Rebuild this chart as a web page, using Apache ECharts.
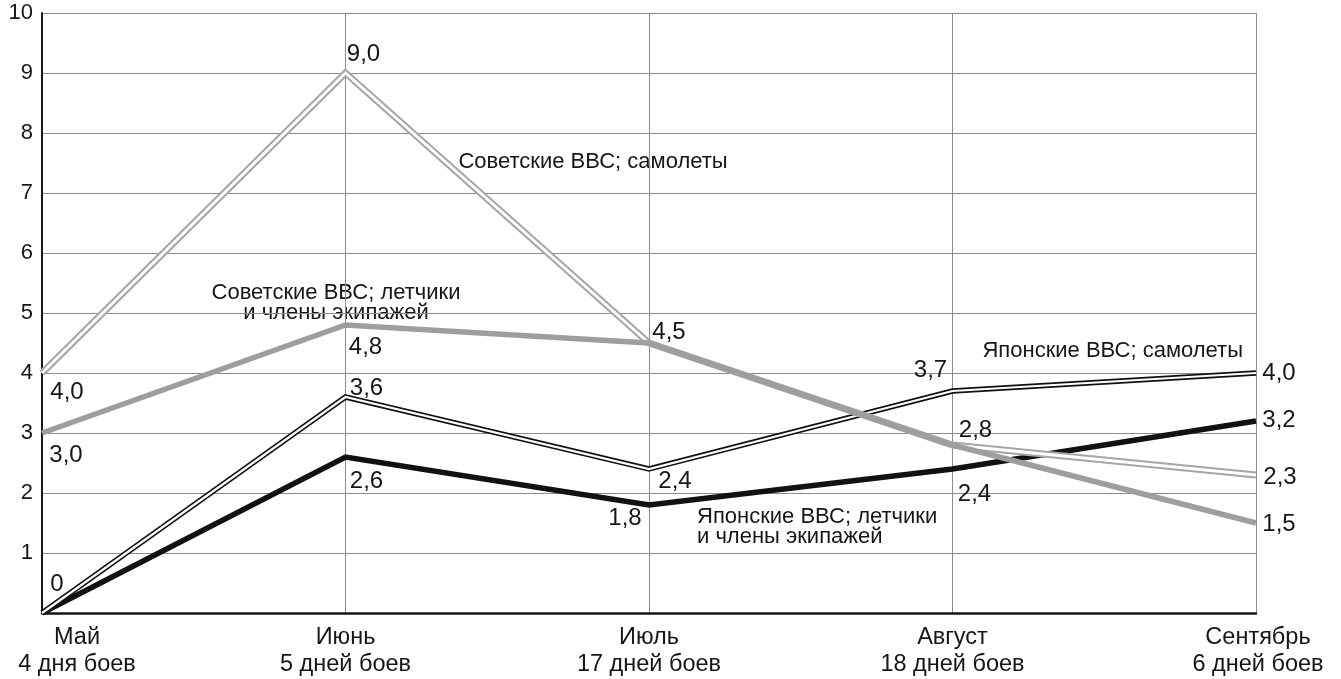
<!DOCTYPE html>
<html lang="ru">
<head>
<meta charset="utf-8">
<title>Потери авиации по месяцам</title>
<script src="https://cdn.jsdelivr.net/npm/echarts@6/dist/echarts.min.js"></script>
<style>
  html, body { margin: 0; padding: 0; background: #ffffff; }
  #chart { width: 1341px; height: 679px; }
</style>
</head>
<body>
<div id="chart"></div>
<script>
// Months and number of combat days in each
const months = ['Май', 'Июнь', 'Июль', 'Август', 'Сентябрь'];
const battleDays = ['4 дня боев', '5 дней боев', '17 дней боев', '18 дней боев', '6 дней боев'];

// Value axis
const yMin = 0;
const yMax = 10;
const yStep = 1;

// Series values
const sovietPlanes = [4.0, 9.0, 4.5, 2.8, 2.3];
const sovietCrews  = [3.0, 4.8, 4.5, 2.8, 1.5];
const japanPlanes  = [0, 3.6, 2.4, 3.7, 4.0];
const japanCrews   = [0, 2.6, 1.8, 2.4, 3.2];

// Where each value label sits relative to its point (null = no label)
const sovietPlanesLabelOffset = [[25, 19], [18, -19], [20, -11], [23, -15], [24, 2]];
const sovietCrewsLabelOffset  = [[24, 22], [20, 22], null, null, [23, 1]];
const japanPlanesLabelOffset  = [[15, -29], [21, -9], [26, 12], [-22, -21], [23, 0]];
const japanCrewsLabelOffset   = [null, [21, 24], [-24, 13], [22, 25], [23, -1]];

// Horizontal nudge for the first month caption so it stays on the page
const monthLabelShift = [35, 0, 0, 0, 2];

const FONT = "'Liberation Sans', Arial, Helvetica, sans-serif";
const INK = '#161616';
const GRID = '#8c8c8c';

function fmt(v) {
  return v === 0 ? '0' : v.toFixed(1).replace('.', ',');
}

function withLabels(values, offsets) {
  return values.map((v, i) => {
    const off = offsets[i];
    return {
      value: v,
      label: off
        ? { show: true, position: 'inside', offset: off }
        : { show: false }
    };
  });
}

function lineSeries(name, values, offsets, color, width, z) {
  return {
    name: name,
    type: 'line',
    data: withLabels(values, offsets),
    z: z,
    symbol: 'circle',
    symbolSize: 1,
    showSymbol: true,
    showAllSymbol: true,
    silent: true,
    itemStyle: { color: 'rgba(0,0,0,0)', borderWidth: 0 },
    lineStyle: { color: color, width: width, join: 'miter', cap: 'butt' },
    label: {
      show: true,
      formatter: p => fmt(p.value),
      color: INK,
      fontFamily: FONT,
      fontSize: 24,
      align: 'center',
      verticalAlign: 'middle'
    },
    emphasis: { disabled: true }
  };
}

// White core drawn on top of a wide stroke gives the double-line look
function coreSeries(values, width, z) {
  return {
    type: 'line',
    data: values,
    z: z,
    symbol: 'none',
    silent: true,
    lineStyle: { color: '#ffffff', width: width, join: 'miter', cap: 'butt' },
    emphasis: { disabled: true }
  };
}

const chart = echarts.init(document.getElementById('chart'), null, { renderer: 'canvas' });

chart.setOption({
  animation: false,
  backgroundColor: '#ffffff',
  grid: { left: 42, right: 85, top: 13, bottom: 66, containLabel: false, outerBoundsMode: 'none' },
  xAxis: {
    type: 'category',
    boundaryGap: false,
    data: months.map((m, i) => ({
      value: m,
      textStyle: { padding: [0, 0, 0, monthLabelShift[i] * 2] }
    })),
    axisLine: { show: true, lineStyle: { color: INK, width: 2.5 } },
    axisTick: { show: false },
    axisLabel: {
      interval: 0,
      margin: 11,
      color: INK,
      fontFamily: FONT,
      fontSize: 23.5,
      lineHeight: 27,
      hideOverlap: false,
      formatter: (v, i) => v + '\n' + battleDays[i]
    },
    splitLine: { show: true, lineStyle: { color: GRID, width: 1 } }
  },
  yAxis: {
    type: 'value',
    min: yMin,
    max: yMax,
    interval: yStep,
    axisLine: { show: true, lineStyle: { color: INK, width: 2 } },
    axisTick: { show: false },
    axisLabel: {
      margin: 9,
      color: INK,
      fontFamily: FONT,
      fontSize: 22,
      formatter: v => (v === 0 ? '' : String(v))
    },
    splitLine: { show: true, lineStyle: { color: GRID, width: 1 } }
  },
  series: [
    lineSeries('Японские ВВС; летчики и члены экипажей', japanCrews, japanCrewsLabelOffset, '#111111', 5.5, 2),
    lineSeries('Японские ВВС; самолеты', japanPlanes, japanPlanesLabelOffset, '#111111', 5.5, 3),
    coreSeries(japanPlanes, 2.2, 4),
    lineSeries('Советские ВВС; самолеты', sovietPlanes, sovietPlanesLabelOffset, '#a6a6a6', 7, 5),
    coreSeries(sovietPlanes, 2.8, 6),
    lineSeries('Советские ВВС; летчики и члены экипажей', sovietCrews, sovietCrewsLabelOffset, '#9e9e9e', 5.5, 7)
  ],
  graphic: [
    {
      type: 'text', x: 593, y: 162, silent: true,
      style: { text: 'Советские ВВС; самолеты', fill: INK, font: '22px ' + FONT, align: 'center', verticalAlign: 'middle' }
    },
    {
      type: 'text', x: 336, y: 303, silent: true,
      style: { text: 'Советские ВВС; летчики\nи члены экипажей', fill: INK, font: '22px ' + FONT, lineHeight: 20, align: 'center', verticalAlign: 'middle' }
    },
    {
      type: 'text', x: 1243, y: 351, silent: true,
      style: { text: 'Японские ВВС; самолеты', fill: INK, font: '22px ' + FONT, align: 'right', verticalAlign: 'middle' }
    },
    {
      type: 'text', x: 697, y: 527, silent: true,
      style: { text: 'Японские ВВС; летчики\nи члены экипажей', fill: INK, font: '22px ' + FONT, lineHeight: 20, align: 'left', verticalAlign: 'middle' }
    }
  ]
});
</script>
</body>
</html>
